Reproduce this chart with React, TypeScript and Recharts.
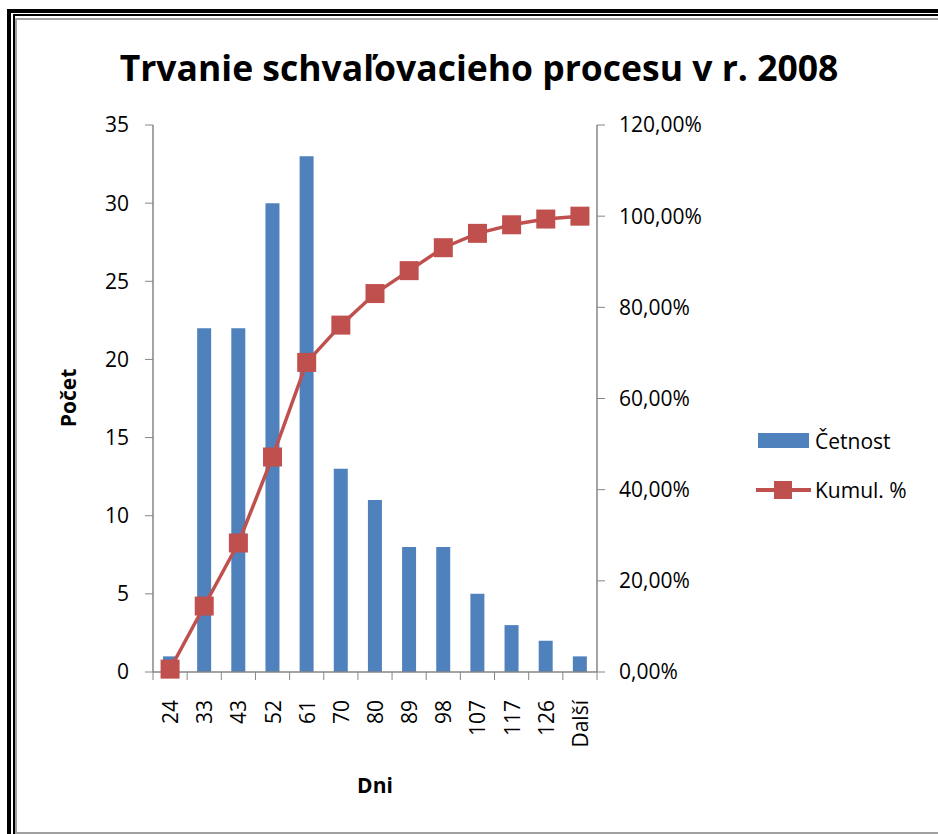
import React from 'react';
import { ComposedChart, Bar, Line, XAxis, YAxis } from 'recharts';

const categories = ['24', '33', '43', '52', '61', '70', '80', '89', '98', '107', '117', '126', 'Další'];
const counts = [1, 22, 22, 30, 33, 13, 11, 8, 8, 5, 3, 2, 1];
const cumulative = [0.0063, 0.1447, 0.283, 0.4717, 0.6792, 0.761, 0.8302, 0.8805, 0.9308, 0.9623, 0.9811, 0.9937, 1.0];
const leftTicks = [0, 5, 10, 15, 20, 25, 30, 35];
const rightTicks = [0, 0.2, 0.4, 0.6, 0.8, 1.0, 1.2];

const data = categories.map((c, i) => ({ cat: c, count: counts[i], cum: cumulative[i] }));

const BLUE = '#4F81BD';
const RED = '#C0504D';
const AXIS = '#868686';
const FONT = '"Open Sans", "Noto Sans", sans-serif';

const PLOT_LEFT = 153;
const PLOT_RIGHT = 597;
const BAND = (PLOT_RIGHT - PLOT_LEFT) / categories.length;

const XTick = (props: any) => {
  const { x, y, payload, index } = props;
  const isLast = index === categories.length - 1;
  return (
    <g>
      <line x1={x - BAND / 2} x2={x - BAND / 2} y1={y - 8} y2={y} stroke={AXIS} strokeWidth={1} />
      {isLast && <line x1={x + BAND / 2} x2={x + BAND / 2} y1={y - 8} y2={y} stroke={AXIS} strokeWidth={1} />}
      <text
        x={x}
        y={y + 20}
        transform={`rotate(-90 ${x} ${y + 20})`}
        textAnchor="end"
        dominantBaseline="central"
        fontSize={21}
        fontFamily={FONT}
        fill="#000"
      >
        {payload.value}
      </text>
    </g>
  );
};

const Square = (props: any) => {
  const { cx, cy, index } = props;
  const s = 19;
  return <rect key={`sq-${index}`} x={cx - s / 2} y={cy - s / 2} width={s} height={s} fill={RED} />;
};

const pct = (v: number) => `${(v * 100).toFixed(2).replace('.', ',')}%`;

export default function App() {
  return (
    <div style={{ position: 'absolute', left: 0, top: 0, width: 938, height: 834, background: '#fff', overflow: 'hidden' }}>
      {/* frame */}
      <div style={{ position: 'absolute', left: 7, top: 9, width: 1200, height: 1200, border: '4px solid #000', boxSizing: 'border-box' }} />
      <div style={{ position: 'absolute', left: 13, top: 14, width: 1200, height: 1200, border: '2px solid #000', boxSizing: 'border-box' }} />
      <div style={{ position: 'absolute', left: 15, top: 18, width: 1200, height: 834 - 18, border: '2px solid #a0a0a0', boxSizing: 'border-box' }} />

      <div style={{ position: 'absolute', left: 0, top: 0 }}>
        <ComposedChart
          width={938}
          height={834}
          data={data}
          margin={{ top: 125, right: 0, left: 0, bottom: 62 }}
          barCategoryGap="30%"
        >
          <XAxis
            dataKey="cat"
            xAxisId="x"
            height={100}
            interval={0}
            axisLine={{ stroke: AXIS, strokeWidth: 1.5 }}
            tickLine={false}
            tick={<XTick />}
          />
          <YAxis
            yAxisId="left"
            width={153}
            domain={[0, 35]}
            ticks={leftTicks}
            interval={0}
            axisLine={{ stroke: AXIS, strokeWidth: 1.5 }}
            tickLine={{ stroke: AXIS }}
            tickSize={8}
            tickMargin={16}
            tick={{ fontSize: 21, fontFamily: FONT, fill: '#000' }}
          />
          <YAxis
            yAxisId="right"
            orientation="right"
            width={341}
            domain={[0, 1.2]}
            ticks={rightTicks}
            interval={0}
            axisLine={{ stroke: AXIS, strokeWidth: 1.5 }}
            tickLine={{ stroke: AXIS }}
            tickSize={8}
            tickMargin={14}
            tickFormatter={pct}
            tick={{ fontSize: 21, fontFamily: FONT, fill: '#000' }}
          />
          <Bar dataKey="count" xAxisId="x" yAxisId="left" fill={BLUE} barSize={14} isAnimationActive={false} />
          <Line
            dataKey="cum"
            xAxisId="x"
            yAxisId="right"
            stroke={RED}
            strokeWidth={3.5}
            dot={Square}
            activeDot={false}
            isAnimationActive={false}
          />
        </ComposedChart>
      </div>

      {/* title */}
      <div style={{ position: 'absolute', left: 0, width: 958, top: 43, textAlign: 'center', fontFamily: FONT, fontWeight: 'bold', fontSize: 35.5, color: '#000', whiteSpace: 'nowrap' }}>
        Trvanie schvaľovacieho procesu v r. 2008
      </div>

      {/* y label */}
      <div style={{ position: 'absolute', left: 68, top: 398, transform: 'translate(-50%, -50%) rotate(-90deg)', fontFamily: FONT, fontWeight: 'bold', fontSize: 21, color: '#000', whiteSpace: 'nowrap' }}>
        Počet
      </div>

      {/* x label */}
      <div style={{ position: 'absolute', left: 375, top: 785, transform: 'translate(-50%, -50%)', fontFamily: FONT, fontWeight: 'bold', fontSize: 21, color: '#000', whiteSpace: 'nowrap' }}>
        Dni
      </div>

      {/* legend */}
      <svg style={{ position: 'absolute', left: 740, top: 420 }} width={198} height={100}>
        <rect x={18} y={13} width={51} height={15} fill={BLUE} />
        <text x={75} y={21} dominantBaseline="central" fontFamily={FONT} fontSize={21} fill="#000">Četnost</text>
        <line x1={16} x2={71} y1={70} y2={70} stroke={RED} strokeWidth={4} />
        <rect x={34} y={61} width={18} height={18} fill={RED} />
        <text x={75} y={70} dominantBaseline="central" fontFamily={FONT} fontSize={21} fill="#000">Kumul. %</text>
      </svg>
    </div>
  );
}
